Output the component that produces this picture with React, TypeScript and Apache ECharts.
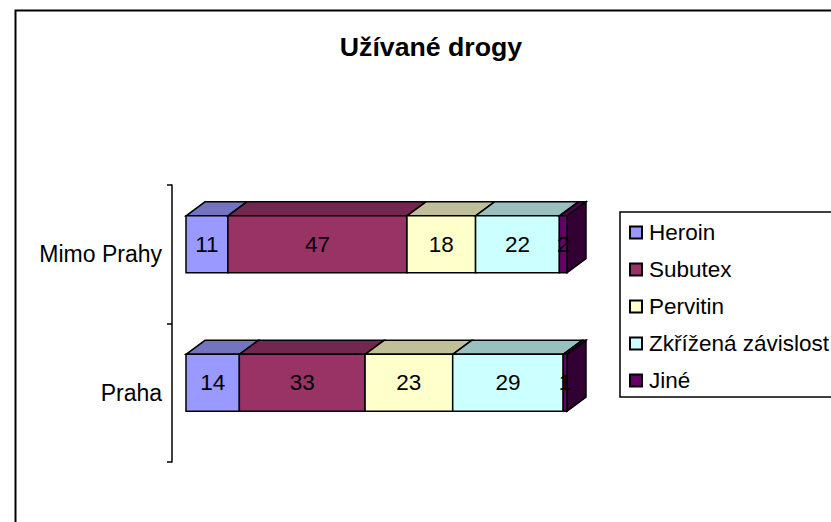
import React, { useEffect, useRef } from "react";
import * as echarts from "echarts";

const categories = ["Praha", "Mimo Prahy"];
const seriesNames = ["Heroin", "Subutex", "Pervitin", "Zkřížená závislost", "Jiné"];
const heroin = [14, 11];
const subutex = [33, 47];
const pervitin = [23, 18];
const zkrizena = [29, 22];
const jine = [1, 2];
const seriesValues = [heroin, subutex, pervitin, zkrizena, jine];
const colors = ["#9999FF", "#993366", "#FFFFCC", "#CCFFFF", "#660066"];
const topColors = ["#7373BF", "#732650", "#BFBF99", "#99BFBF", "#4D004D"];
const sideColor = "#330033";

const DEPTH_X = 19;
const DEPTH_Y = 14;
const LIFT = 10;
const FONT = "'Liberation Sans', Arial, sans-serif";

export default function App() {
  const ref = useRef<HTMLDivElement>(null);
  useEffect(() => {
    document.body.style.margin = "0";
    const chart = echarts.init(ref.current!, undefined, { renderer: "svg" });
    const stroke = { stroke: "#000", lineWidth: 1.5 };
    const series = seriesValues.map((vals, si) => ({
      name: seriesNames[si],
      type: "custom",
      coordinateSystem: "cartesian2d",
      itemStyle: { color: colors[si], borderColor: "#000", borderWidth: 1.5 },
      z: 5 + si,
      data: vals.map((v, ci) => {
        let start = 0;
        for (let k = 0; k < si; k++) start += seriesValues[k][ci];
        return [start, ci, start + v, v];
      }),
      encode: { x: [0, 2], y: 1 },
      renderItem: (_p: any, api: any) => {
        const a = api.coord([api.value(0), api.value(1)]);
        const b = api.coord([api.value(2), api.value(1)]);
        const bh = api.size([0, 1])[1] * 0.41;
        const x0 = a[0];
        const x1 = b[0];
        const y0 = a[1] - LIFT - bh / 2;
        const y1 = y0 + bh;
        const children: any[] = [
          {
            type: "polygon",
            shape: {
              points: [
                [x0, y0],
                [x0 + DEPTH_X, y0 - DEPTH_Y],
                [x1 + DEPTH_X, y0 - DEPTH_Y],
                [x1, y0],
              ],
            },
            style: { fill: topColors[si], ...stroke },
          },
        ];
        if (si === seriesValues.length - 1) {
          children.push({
            type: "polygon",
            shape: {
              points: [
                [x1, y0],
                [x1 + DEPTH_X, y0 - DEPTH_Y],
                [x1 + DEPTH_X, y1 - DEPTH_Y],
                [x1, y1],
              ],
            },
            style: { fill: sideColor, ...stroke },
          });
        }
        children.push({
          type: "rect",
          shape: { x: x0, y: y0, width: x1 - x0, height: bh },
          style: { fill: colors[si], ...stroke },
        });
        children.push({
          type: "text",
          z2: 100,
          style: {
            x: (x0 + x1) / 2,
            y: (y0 + y1) / 2,
            text: String(api.value(3)),
            fill: "#000",
            font: `22.5px ${FONT}`,
            align: "center",
            verticalAlign: "middle",
          },
        });
        return { type: "group", children };
      },
    }));
    chart.setOption({
      animation: false,
      backgroundColor: "#fff",
      title: {
        text: "Užívané drogy",
        left: 426,
        top: 28,
        textAlign: "center",
        textStyle: { fontFamily: FONT, fontSize: 26.7, fontWeight: "bold", color: "#000" },
      },
      graphic: [
        {
          type: "rect",
          shape: { x: 15.5, y: 10.5, width: 900, height: 600 },
          style: { fill: "none", stroke: "#000", lineWidth: 2 },
          silent: true,
          z: 0,
        },
      ],
      legend: {
        orient: "vertical",
        left: 620,
        top: 212,
        padding: [9, 30, 5, 9],
        itemWidth: 12,
        itemHeight: 12,
        itemGap: 14,
        icon: "rect",
        borderColor: "#000",
        borderWidth: 1.5,
        backgroundColor: "#fff",
        textStyle: { fontFamily: FONT, fontSize: 22.5, color: "#000", padding: [0, 0, 0, 2] },
        data: seriesNames,
      },
      grid: { left: 186, top: 185, width: 381, height: 277 },
      xAxis: { type: "value", min: 0, max: 100, show: false },
      yAxis: {
        type: "category",
        data: categories,
        offset: 14,
        axisLine: { show: true, onZero: false, lineStyle: { color: "#000", width: 1.5 } },
        axisTick: { show: true, length: 5, lineStyle: { color: "#000", width: 1.5 } },
        axisLabel: { fontFamily: FONT, fontSize: 23, color: "#000", margin: 10 },
      },
      series,
    } as any);
    return () => chart.dispose();
  }, []);
  return <div ref={ref} style={{ width: 831, height: 522, overflow: "hidden" }} />;
}
